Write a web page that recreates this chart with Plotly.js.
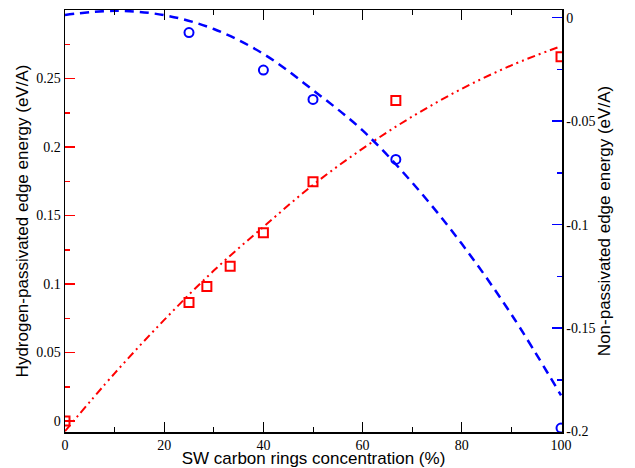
<!DOCTYPE html>
<html>
<head>
<meta charset="utf-8">
<script src="https://cdn.plot.ly/plotly-3.0.1.min.js"></script>
<style>html,body{margin:0;padding:0;background:#fff;}</style>
</head>
<body>
<div id="chart" style="width:635px;height:468px;"></div>
<script>
const nonPassX = [25, 40, 50, 66.7, 100];
const nonPassY = [-0.0072, -0.0253, -0.0395, -0.0685, -0.1983];
const hPassX = [0, 25, 28.6, 33.3, 40, 50, 66.7, 100];
const hPassY = [0, 0.0865, 0.0982, 0.113, 0.1374, 0.1747, 0.234, 0.2659];
// Fitted curves
const fitX = [0, 10, 20, 30, 40, 50, 60, 70, 80, 90, 100];
const fitH = [-0.0074, 0.0348, 0.0738, 0.1098, 0.1417, 0.1723, 0.1988, 0.2222, 0.2425, 0.2596, 0.2736];
const fitN = [0.0013, 0.0033, 0.0012, -0.0055, -0.0175, -0.0350, -0.0545, -0.0797, -0.1093, -0.1434, -0.1825];
// Tick labels
const xTicks = [0, 20, 40, 60, 80, 100];
const xMinor = [10, 30, 50, 70, 90];
const yTicks = [0, 0.05, 0.1, 0.15, 0.2, 0.25];
const yTickText = ['0', '0.05', '0.1', '0.15', '0.2', '0.25'];
const yMinor = [0.025, 0.075, 0.125, 0.175, 0.225, 0.275];
const y2Ticks = [0, -0.05, -0.1, -0.15, -0.2];
const y2TickText = ['0', '-0.05', '-0.1', '-0.15', '-0.2'];
const y2Minor = [-0.025, -0.075, -0.125, -0.175];

const traces = [
  {x: fitX, y: fitN, yaxis: 'y2', mode: 'lines', line: {color: '#0000ff', width: 2.5, dash: '9px,6px', shape: 'spline'}, hoverinfo: 'skip'},
  {x: fitX, y: fitH, yaxis: 'y', mode: 'lines', line: {color: '#ff0000', width: 2, dash: '8px,4px,2px,4px,2px,4px', shape: 'spline'}, hoverinfo: 'skip'},
  {x: nonPassX, y: nonPassY, yaxis: 'y2', mode: 'markers', marker: {symbol: 'circle-open', size: 9, color: '#0000ff', line: {width: 2, color: '#0000ff'}}},
  {x: hPassX, y: hPassY, yaxis: 'y', mode: 'markers', marker: {symbol: 'square-open', size: 9, color: '#ff0000', line: {width: 2, color: '#ff0000'}}}
];

function tickFont() { return {family: 'Liberation Serif', size: 14, color: '#000'}; }
function titleFont() { return {family: 'Liberation Sans', size: 17, color: '#000'}; }

const layout = {
  width: 635, height: 468,
  margin: {l: 65, r: 73, t: 10, b: 36},
  showlegend: false,
  font: {family: 'Liberation Serif', size: 14, color: '#000'},
  paper_bgcolor: '#fff', plot_bgcolor: '#fff',
  xaxis: {
    range: [0, 100.2], showgrid: false, zeroline: false,
    showline: true, linecolor: '#000', linewidth: 1.5, mirror: 'ticks',
    tickmode: 'array', tickvals: xTicks, ticktext: xTicks.map(String),
    ticks: 'inside', ticklen: 10, tickwidth: 1, tickcolor: '#000',
    minor: {tickmode: 'array', tickvals: xMinor, ticks: 'inside', ticklen: 5, tickcolor: '#000', tickwidth: 1},
    tickfont: tickFont(),
    title: {text: 'SW carbon rings concentration (%)', font: titleFont(), standoff: 6}
  },
  yaxis: {
    range: [-0.008, 0.3], showgrid: false, zeroline: false,
    showline: true, linecolor: '#000', linewidth: 1.5,
    tickmode: 'array', tickvals: yTicks, ticktext: yTickText,
    ticks: 'inside', ticklen: 10, tickwidth: 1.5, tickcolor: '#ff0000',
    minor: {tickmode: 'array', tickvals: yMinor, ticks: 'inside', ticklen: 5, tickcolor: '#ff0000', tickwidth: 1.5},
    tickfont: tickFont(),
    title: {text: 'Hydrogen-passivated edge energy (eV/A)', font: titleFont(), standoff: 3}
  },
  yaxis2: {
    overlaying: 'y', side: 'right',
    range: [-0.2002, 0.0037], showgrid: false, zeroline: false,
    showline: true, linecolor: '#000', linewidth: 1.5,
    tickmode: 'array', tickvals: y2Ticks, ticktext: y2TickText,
    ticks: 'inside', ticklen: 10, tickwidth: 1.5, tickcolor: '#0000ff',
    minor: {tickmode: 'array', tickvals: y2Minor, ticks: 'inside', ticklen: 5, tickcolor: '#0000ff', tickwidth: 1.5},
    tickfont: tickFont(),
    title: {text: 'Non-passivated edge energy (eV/A)', font: titleFont(), standoff: 1}
  }
};

Plotly.newPlot('chart', traces, layout, {staticPlot: true, displayModeBar: false});
</script>
</body>
</html>
